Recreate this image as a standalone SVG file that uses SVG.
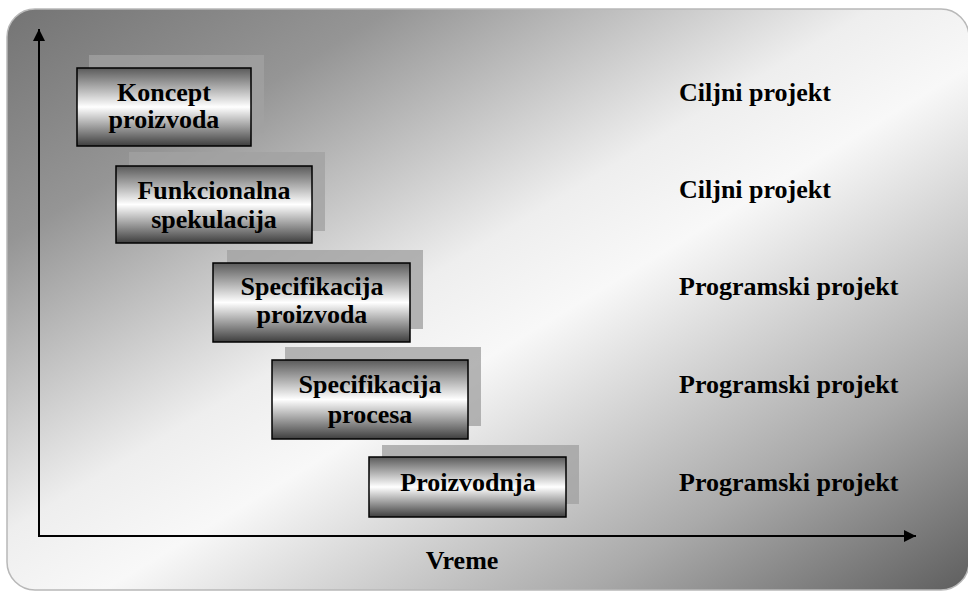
<svg xmlns="http://www.w3.org/2000/svg" width="968" height="591" viewBox="0 0 968 591">
  <defs>
    <linearGradient id="bgGrad" x1="0" y1="0" x2="1" y2="1">
      <stop offset="0" stop-color="#747474"/>
      <stop offset="0.2" stop-color="#959595"/>
      <stop offset="0.45" stop-color="#eeeeee"/>
      <stop offset="0.55" stop-color="#f8f8f8"/>
      <stop offset="0.8" stop-color="#aaaaaa"/>
      <stop offset="1" stop-color="#5e5e5e"/>
    </linearGradient>
    <linearGradient id="boxGrad" x1="0" y1="0" x2="0" y2="1">
      <stop offset="0" stop-color="#5a5a5a"/>
      <stop offset="0.5" stop-color="#ffffff"/>
      <stop offset="1" stop-color="#3e3e3e"/>
    </linearGradient>
    <marker id="arrow" viewBox="0 0 12 12" refX="12" refY="6" markerWidth="12" markerHeight="12" markerUnits="userSpaceOnUse" orient="auto">
      <path d="M0,0 L12,6 L0,12 Z" fill="#000"/>
    </marker>
  </defs>
  <style>
    .shadow { fill: #a1a1a1; fill-opacity: 0.78; }
    .box { fill: url(#boxGrad); stroke: #000; stroke-width: 1.5; }
    .lbl { font-family: "Liberation Serif", "Times New Roman", serif; font-weight: bold; font-size: 26px; fill: #000; }
    .mid { text-anchor: middle; }
    .axis { stroke: #000; stroke-width: 2; fill: none; marker-end: url(#arrow); }
  </style>

  <!-- panel background -->
  <rect x="7" y="9" width="962" height="581" rx="28" ry="28" fill="url(#bgGrad)" stroke="#b8b8b8" stroke-width="1.5"/>

  <!-- axes -->
  <g id="connectors">
    <line class="axis" x1="39" y1="537" x2="39" y2="29"/>
    <line class="axis" x1="39" y1="536" x2="916" y2="536"/>
  </g>

  <g id="koncept">
    <rect class="shadow" x="89" y="55" width="175" height="78"/>
    <rect class="box" x="77" y="68" width="174" height="78"/>
    <text class="lbl mid" x="164" y="101">Koncept</text>
    <text class="lbl mid" x="164" y="128">proizvoda</text>
  </g>

  <g id="funkcionalna">
    <rect class="shadow" x="129" y="152" width="196" height="79"/>
    <rect class="box" x="116" y="166" width="196" height="77"/>
    <text class="lbl mid" x="214" y="199">Funkcionalna</text>
    <text class="lbl mid" x="214" y="228">spekulacija</text>
  </g>

  <g id="spec-proizvoda">
    <rect class="shadow" x="227" y="250" width="196" height="79"/>
    <rect class="box" x="213" y="263" width="197" height="79"/>
    <text class="lbl mid" x="312" y="295">Specifikacija</text>
    <text class="lbl mid" x="312" y="323">proizvoda</text>
  </g>

  <g id="spec-procesa">
    <rect class="shadow" x="285" y="347" width="196" height="79"/>
    <rect class="box" x="272" y="360" width="196" height="79"/>
    <text class="lbl mid" x="370" y="393">Specifikacija</text>
    <text class="lbl mid" x="370" y="423">procesa</text>
  </g>

  <g id="proizvodnja">
    <rect class="shadow" x="382" y="445" width="197" height="59"/>
    <rect class="box" x="369" y="457" width="197" height="60"/>
    <text class="lbl mid" x="468" y="491">Proizvodnja</text>
  </g>

  <!-- project type labels -->
  <g id="labels">
    <text class="lbl" x="679" y="101">Ciljni projekt</text>
    <text class="lbl" x="679" y="198">Ciljni projekt</text>
    <text class="lbl" x="679" y="295">Programski projekt</text>
    <text class="lbl" x="679" y="393">Programski projekt</text>
    <text class="lbl" x="679" y="491">Programski projekt</text>
    <text class="lbl mid" x="462" y="569">Vreme</text>
  </g>
</svg>
